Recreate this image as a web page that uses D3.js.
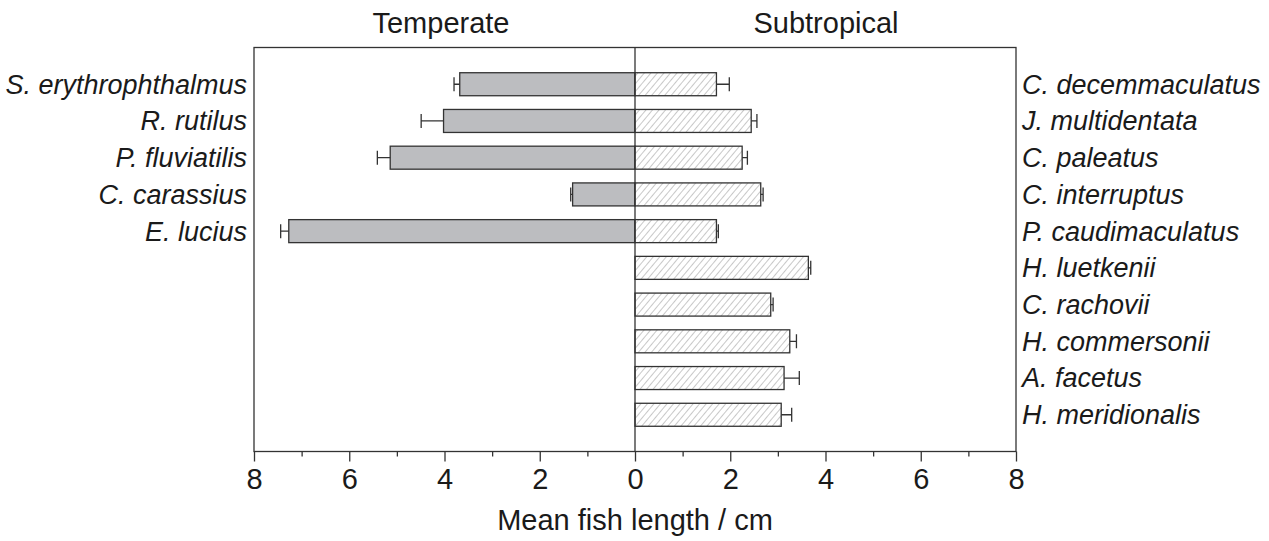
<!DOCTYPE html>
<meta charset="utf-8">
<style>
    body { margin: 0; background: #fff; }
    svg { font-family: "Liberation Sans", Arial, sans-serif; }
    .bar { stroke: #333; stroke-width: 1.3px; }
    .err { stroke: #333; stroke-width: 1.3px; fill: none; }
    .lab { font-size: 27px; font-style: italic; fill: #1a1a1a; }
    .title { font-size: 29px; fill: #1a1a1a; }
</style>
<body>
<script src="https://d3js.org/d3.v7.min.js"></script>
<script>
    var width = 1269,
        height = 541;

    // temperate species (left side)
    var tempNames = ["S. erythrophthalmus", "R. rutilus", "P. fluviatilis", "C. carassius", "E. lucius"];
    var tempMeans = [3.68, 4.02, 5.14, 1.31, 7.27];
    var tempErr = [0.12, 0.47, 0.27, 0.04, 0.17];

    // subtropical species (right side)
    var subNames = ["C. decemmaculatus", "J. multidentata", "C. paleatus", "C. interruptus", "P. caudimaculatus",
        "H. luetkenii", "C. rachovii", "H. commersonii", "A. facetus", "H. meridionalis"];
    var subMeans = [1.71, 2.44, 2.25, 2.64, 1.71, 3.64, 2.85, 3.25, 3.13, 3.07];
    var subErr = [0.27, 0.12, 0.11, 0.05, 0.04, 0.05, 0.05, 0.14, 0.32, 0.22];

    var tickVals = [-8, -6, -4, -2, 0, 2, 4, 6, 8];
    var minorVals = [-7, -5, -3, -1, 1, 3, 5, 7];

    // plot frame (window.top is reserved, so plotTop etc.)
    var plotLeft = 254, plotRight = 1016, plotTop = 47.5, plotBottom = 451.5;

    var svg = d3.select('body').append('svg')
        .attr('width', width)
        .attr('height', height);

    var defs = svg.append('defs');
    var pat = defs.append('pattern')
        .attr('id', 'hatch')
        .attr('patternUnits', 'userSpaceOnUse')
        .attr('width', 5)
        .attr('height', 5)
        .attr('patternTransform', 'rotate(40)');
    pat.append('rect').attr('width', 5).attr('height', 5).attr('fill', '#fff');
    pat.append('line')
        .attr('x1', 0).attr('y1', 0).attr('x2', 0).attr('y2', 5)
        .attr('stroke', '#9a9a9a').attr('stroke-width', 1.1);

    var x = d3.scaleLinear().domain([-8, 8]).range([plotLeft, plotRight]);
    var y = d3.scalePoint().domain(d3.range(10)).range([plotTop, plotBottom]).padding(1);
    var barH = 23;

    // frame
    svg.append('rect')
        .attr('x', plotLeft).attr('y', plotTop)
        .attr('width', plotRight - plotLeft).attr('height', plotBottom - plotTop)
        .attr('fill', 'none').attr('stroke', '#333').attr('stroke-width', 1.3);

    // bars left
    svg.selectAll('.tbar')
        .data(tempMeans)
        .enter().append('rect')
        .attr('class', 'bar tbar')
        .attr('x', function (d) { return x(-d); })
        .attr('y', function (d, i) { return y(i) - barH / 2; })
        .attr('width', function (d) { return x(0) - x(-d); })
        .attr('height', barH)
        .attr('fill', '#bcbdc0');

    svg.selectAll('.terr')
        .data(tempMeans)
        .enter().append('path')
        .attr('class', 'err terr')
        .attr('d', function (d, i) {
            var x0 = x(-d), x1 = x(-d - tempErr[i]), yc = y(i);
            return 'M' + x0 + ',' + yc + 'H' + x1 + 'M' + x1 + ',' + (yc - 7) + 'V' + (yc + 7);
        });

    // bars right
    svg.selectAll('.sbar')
        .data(subMeans)
        .enter().append('rect')
        .attr('class', 'bar sbar')
        .attr('x', x(0))
        .attr('y', function (d, i) { return y(i) - barH / 2; })
        .attr('width', function (d) { return x(d) - x(0); })
        .attr('height', barH)
        .attr('fill', 'url(#hatch)');

    svg.selectAll('.serr')
        .data(subMeans)
        .enter().append('path')
        .attr('class', 'err serr')
        .attr('d', function (d, i) {
            var x0 = x(d), x1 = x(d + subErr[i]), yc = y(i);
            return 'M' + x0 + ',' + yc + 'H' + x1 + 'M' + x1 + ',' + (yc - 7) + 'V' + (yc + 7);
        });

    // zero line
    svg.append('line')
        .attr('x1', x(0)).attr('x2', x(0))
        .attr('y1', plotTop).attr('y2', plotBottom)
        .attr('stroke', '#333').attr('stroke-width', 1.3);

    // x axis, ticks pointing outward
    var ax = svg.append('g')
        .attr('transform', 'translate(0,' + plotBottom + ')')
        .call(d3.axisBottom(x).tickValues(tickVals).tickSize(10).tickPadding(7)
            .tickFormat(function (d) { return Math.abs(d); }));
    ax.attr('font-size', 29).attr('font-family', null);
    ax.select('.domain').remove();
    ax.selectAll('.tick line').attr('stroke', '#333').attr('stroke-width', 1.3);
    ax.selectAll('.tick text').attr('fill', '#1a1a1a');

    var axm = svg.append('g')
        .attr('transform', 'translate(0,' + plotBottom + ')')
        .call(d3.axisBottom(x).tickValues(minorVals).tickSize(5).tickFormat(''));
    axm.select('.domain').remove();
    axm.selectAll('.tick line').attr('stroke', '#333').attr('stroke-width', 1.3);

    // species labels
    svg.selectAll('.tlab')
        .data(tempNames)
        .enter().append('text')
        .attr('class', 'lab')
        .attr('x', plotLeft - 7)
        .attr('y', function (d, i) { return y(i); })
        .attr('dy', '0.35em')
        .attr('text-anchor', 'end')
        .text(function (d) { return d; });

    svg.selectAll('.slab')
        .data(subNames)
        .enter().append('text')
        .attr('class', 'lab')
        .attr('x', plotRight + 6)
        .attr('y', function (d, i) { return y(i); })
        .attr('dy', '0.35em')
        .text(function (d) { return d; });

    // titles
    svg.append('text')
        .attr('class', 'title')
        .attr('x', 441).attr('y', 33)
        .attr('text-anchor', 'middle')
        .text('Temperate');
    svg.append('text')
        .attr('class', 'title')
        .attr('x', 826).attr('y', 33)
        .attr('text-anchor', 'middle')
        .text('Subtropical');
    svg.append('text')
        .attr('class', 'title')
        .attr('x', x(0)).attr('y', 530)
        .attr('text-anchor', 'middle')
        .text('Mean fish length / cm');
</script>
</body>
